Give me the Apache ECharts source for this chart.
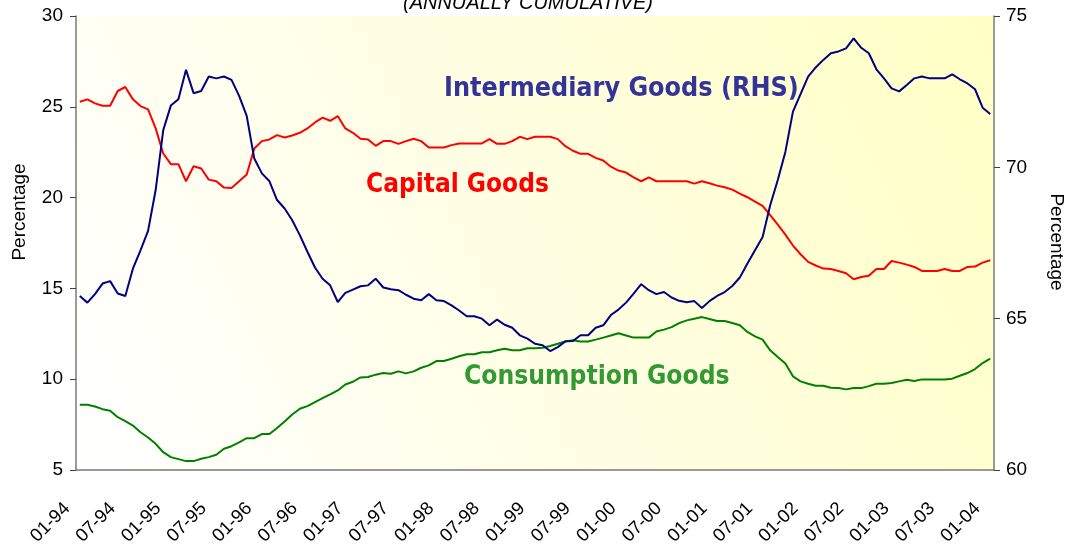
<!DOCTYPE html>
<html>
<head>
<meta charset="utf-8">
<script src="https://cdn.jsdelivr.net/npm/echarts@6/dist/echarts.min.js"></script>
<style>
  html, body { margin: 0; padding: 0; background: #fff; }
  #main { width: 1066px; height: 547px; }
</style>
</head>
<body>
<div id="main"></div>
<script>
// months 01-94 .. 01-04 (121 points)
var startYear = 1994;
var monthCount = 121;
var months = [];
for (var k = 0; k < monthCount; k++) {
    var m = (k % 12) + 1;
    var y = (startYear + Math.floor(k / 12)) % 100;
    months.push((m < 10 ? '0' : '') + m + '-' + (y < 10 ? '0' : '') + y);
}

// Capital goods, left axis (%)
var capitalGoods = [
    25.28, 25.41, 25.19, 25.06, 25.06, 25.87, 26.09, 25.41, 25.04, 24.86,
    23.81, 22.43, 21.84, 21.84, 20.90, 21.73, 21.60, 20.99, 20.90, 20.55,
    20.53, 20.90, 21.27, 22.70, 23.11, 23.20, 23.44, 23.31, 23.42, 23.57,
    23.81, 24.14, 24.40, 24.23, 24.49, 23.81, 23.57, 23.24, 23.20, 22.85,
    23.11, 23.11, 22.96, 23.11, 23.24, 23.11, 22.76, 22.76, 22.76, 22.89,
    22.98, 22.98, 22.98, 22.98, 23.22, 22.96, 22.96, 23.11, 23.35, 23.22,
    23.35, 23.35, 23.35, 23.22, 22.83, 22.58, 22.41, 22.41, 22.19, 22.04,
    21.70, 21.49, 21.38, 21.11, 20.90, 21.12, 20.90, 20.90, 20.90, 20.90,
    20.90, 20.77, 20.90, 20.79, 20.66, 20.57, 20.44, 20.22, 20.02, 19.78,
    19.54, 19.03, 18.51, 17.96, 17.36, 16.88, 16.46, 16.26, 16.09, 16.07,
    15.96, 15.83, 15.50, 15.63, 15.70, 16.07, 16.07, 16.51, 16.42, 16.31,
    16.18, 15.96, 15.96, 15.96, 16.07, 15.96, 15.96, 16.18, 16.20, 16.42,
    16.55
];

// Consumption goods, left axis (%)
var consumptionGoods = [
    8.59, 8.59, 8.50, 8.35, 8.26, 7.91, 7.69, 7.45, 7.08, 6.79,
    6.44, 5.98, 5.71, 5.60, 5.49, 5.49, 5.62, 5.71, 5.84, 6.17,
    6.31, 6.52, 6.75, 6.75, 6.98, 6.98, 7.31, 7.67, 8.06, 8.37,
    8.52, 8.74, 8.96, 9.16, 9.38, 9.71, 9.86, 10.10, 10.12, 10.25,
    10.34, 10.30, 10.43, 10.32, 10.43, 10.63, 10.76, 11.00, 11.00, 11.13,
    11.26, 11.37, 11.37, 11.48, 11.48, 11.59, 11.68, 11.59, 11.59, 11.70,
    11.70, 11.73, 11.83, 11.95, 12.08, 12.14, 12.08, 12.08, 12.18, 12.29,
    12.41, 12.53, 12.41, 12.29, 12.29, 12.29, 12.63, 12.73, 12.87, 13.09,
    13.24, 13.33, 13.42, 13.31, 13.20, 13.20, 13.09, 12.97, 12.60, 12.36,
    12.18, 11.59, 11.22, 10.86, 10.16, 9.88, 9.75, 9.64, 9.64, 9.53,
    9.51, 9.44, 9.51, 9.51, 9.62, 9.75, 9.75, 9.79, 9.88, 9.97,
    9.90, 9.99, 9.99, 9.99, 9.99, 10.03, 10.19, 10.34, 10.56, 10.89,
    11.13
];

// Intermediary goods, right axis (%)
var intermediaryGoods = [
    65.75, 65.53, 65.81, 66.16, 66.24, 65.83, 65.75, 66.65, 67.26, 67.90,
    69.25, 71.23, 72.04, 72.25, 73.22, 72.45, 72.52, 73.00, 72.94, 73.00,
    72.89, 72.36, 71.70, 70.29, 69.80, 69.54, 68.92, 68.64, 68.25, 67.76,
    67.21, 66.69, 66.32, 66.10, 65.55, 65.85, 65.96, 66.07, 66.10, 66.32,
    66.03, 65.97, 65.94, 65.79, 65.66, 65.61, 65.81, 65.61, 65.58, 65.44,
    65.27, 65.08, 65.08, 65.00, 64.78, 64.97, 64.80, 64.70, 64.45, 64.34,
    64.17, 64.12, 63.93, 64.06, 64.25, 64.26, 64.45, 64.45, 64.70, 64.78,
    65.12, 65.30, 65.53, 65.83, 66.14, 65.94, 65.81, 65.88, 65.70, 65.59,
    65.54, 65.58, 65.35, 65.58, 65.75, 65.88, 66.08, 66.36, 66.82, 67.26,
    67.70, 68.75, 69.58, 70.51, 71.84, 72.42, 73.00, 73.30, 73.55, 73.77,
    73.83, 73.93, 74.26, 73.95, 73.77, 73.24, 72.94, 72.61, 72.51, 72.72,
    72.94, 73.00, 72.94, 72.94, 72.94, 73.07, 72.91, 72.77, 72.58, 71.97,
    71.76
];

var seriesNames = ['Intermediary Goods (RHS)', 'Capital Goods', 'Consumption Goods'];

var dom = document.getElementById('main');
var myChart = echarts.init(dom, null, { renderer: 'canvas' });

var axisColor = '#7a7a7a';
var labelFont = '"Liberation Sans", Arial, sans-serif';
var tagFont = 'Tahoma, "DejaVu Sans Condensed", "DejaVu Sans", sans-serif';

var option = {
    animation: false,
    backgroundColor: '#ffffff',
    grid: {
        left: 76,
        right: 72,
        top: 16,
        bottom: 77,
        outerBoundsMode: 'none',
        show: true,
        borderWidth: 0,
        backgroundColor: new echarts.graphic.LinearGradient(0, 1, 1, 0, [
            { offset: 0, color: '#ffffff' },
            { offset: 0.5, color: '#fffee2' },
            { offset: 1, color: '#ffffc4' }
        ])
    },
    xAxis: {
        type: 'category',
        data: months,
        boundaryGap: true,
        axisLine: { lineStyle: { color: axisColor, width: 1.5 } },
        axisTick: { interval: 5, length: 6, lineStyle: { color: '#404040' } },
        axisLabel: {
            interval: 5,
            rotate: 45,
            margin: 23,
            padding: [0, 18, 0, 0],
            fontSize: 18.5,
            color: '#000',
            fontFamily: labelFont
        },
        splitLine: { show: false }
    },
    yAxis: [
        {
            type: 'value',
            position: 'left',
            min: 5,
            max: 30,
            interval: 5,
            axisLine: { show: true, lineStyle: { color: axisColor, width: 1.5 } },
            axisTick: { show: true, length: 6, lineStyle: { color: '#404040' } },
            axisLabel: { margin: 13, fontSize: 19, color: '#000', fontFamily: labelFont },
            splitLine: { show: false }
        },
        {
            type: 'value',
            position: 'right',
            min: 60,
            max: 75,
            interval: 5,
            axisLine: { show: true, lineStyle: { color: axisColor, width: 1.5 } },
            axisTick: { show: true, length: 6, lineStyle: { color: '#404040' } },
            axisLabel: { margin: 12, fontSize: 19, color: '#000', fontFamily: labelFont },
            splitLine: { show: false }
        }
    ],
    series: [
        {
            name: seriesNames[0],
            type: 'line',
            yAxisIndex: 1,
            data: intermediaryGoods,
            symbol: 'none',
            lineStyle: { color: '#000080', width: 2 },
            z: 3
        },
        {
            name: seriesNames[1],
            type: 'line',
            yAxisIndex: 0,
            data: capitalGoods,
            symbol: 'none',
            lineStyle: { color: '#ff0000', width: 2 },
            z: 2
        },
        {
            name: seriesNames[2],
            type: 'line',
            yAxisIndex: 0,
            data: consumptionGoods,
            symbol: 'none',
            lineStyle: { color: '#008000', width: 2 },
            z: 2
        }
    ],
    graphic: [
        {
            type: 'text', x: 528, y: 3.5,
            style: {
                text: '(ANNUALLY CUMULATIVE)', fill: '#000', align: 'center', verticalAlign: 'middle',
                font: 'italic 20px "Liberation Sans", Arial, sans-serif'
            }
        },
        {
            type: 'text', x: 20, y: 212, rotation: Math.PI / 2,
            style: {
                text: 'Percentage', fill: '#000', align: 'center', verticalAlign: 'middle',
                font: '19px "Liberation Sans", Arial, sans-serif'
            }
        },
        {
            type: 'text', x: 1056, y: 242, rotation: -Math.PI / 2,
            style: {
                text: 'Percentage', fill: '#000', align: 'center', verticalAlign: 'middle',
                font: '19px "Liberation Sans", Arial, sans-serif'
            }
        },
        {
            type: 'text', x: 444, y: 89,
            style: {
                text: seriesNames[0], fill: '#333399', align: 'left', verticalAlign: 'middle',
                font: 'bold 26.7px ' + tagFont
            }
        },
        {
            type: 'text', x: 366, y: 185,
            style: {
                text: seriesNames[1], fill: '#ff0000', align: 'left', verticalAlign: 'middle',
                font: 'bold 26px ' + tagFont
            }
        },
        {
            type: 'text', x: 464, y: 377,
            style: {
                text: seriesNames[2], fill: '#339933', align: 'left', verticalAlign: 'middle',
                font: 'bold 26.2px ' + tagFont
            }
        }
    ]
};

myChart.setOption(option);
window.addEventListener('resize', myChart.resize);
</script>
</body>
</html>
